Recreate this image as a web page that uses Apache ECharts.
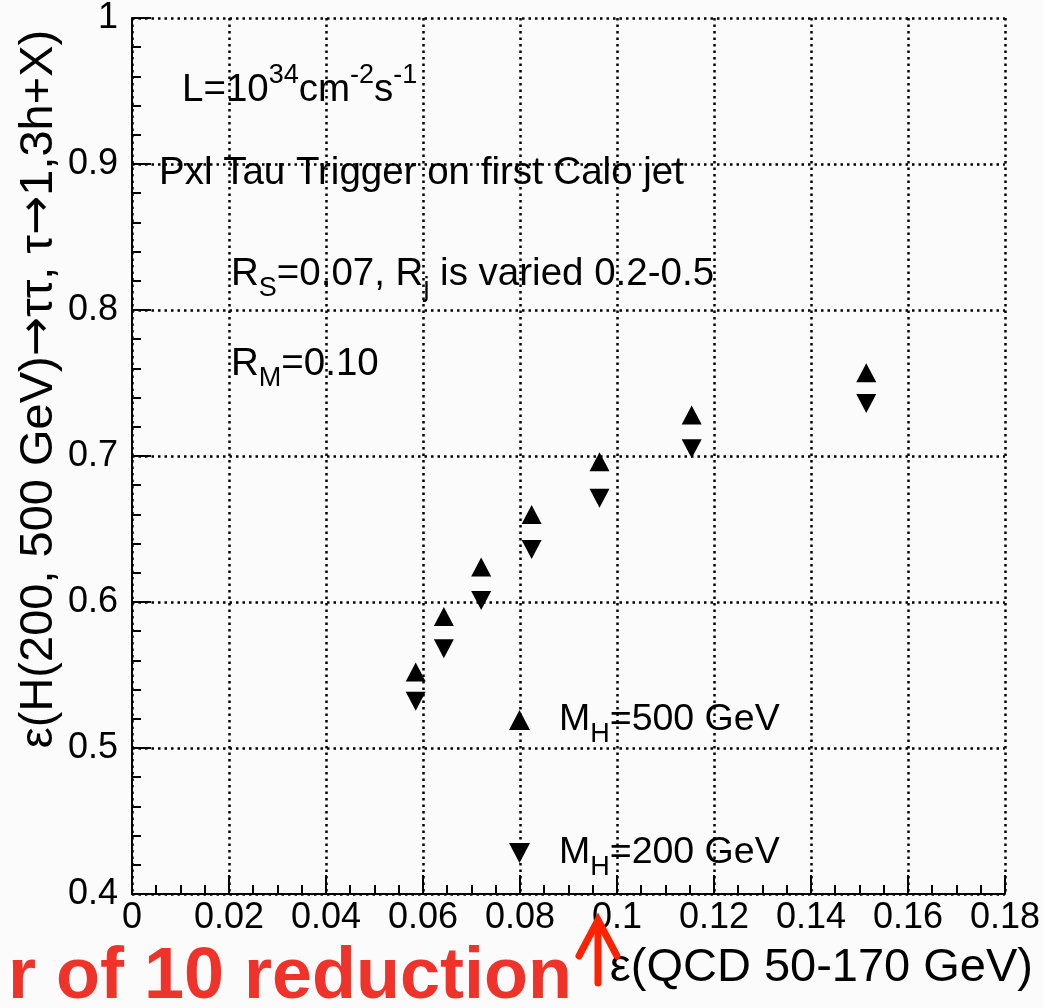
<!DOCTYPE html>
<html><head><meta charset="utf-8">
<script src="https://cdn.jsdelivr.net/npm/echarts@6/dist/echarts.min.js"></script>
<style>html,body{margin:0;padding:0;background:#fbfbfb}#c{width:1043px;height:1008px}</style>
</head><body><div id="c"></div>
<script>
// QCD background efficiency (x) for each R_j setting
const qcdEff = [0.0585, 0.0643, 0.0720, 0.0824, 0.0964, 0.1154, 0.1514];
// Higgs efficiencies
const higgs500Eff = [0.552, 0.590, 0.624, 0.660, 0.696, 0.728, 0.757];
const higgs200Eff = [0.532, 0.568, 0.601, 0.636, 0.671, 0.705, 0.736];
const seriesNames = ['MH500', 'MH200'];
const legendLabels = { MH500: '{n|M}{b|H}{n|=500 GeV}', MH200: '{n|M}{b|H}{n|=200 GeV}' };
const xRange = [0, 0.18, 0.02];
const yRange = [0.4, 1.0, 0.1];

const FONT = "'Liberation Sans', Arial, Helvetica, sans-serif";
function mkRich(key, size) {
  const o = {};
  o.n = { fontSize: size, lineHeight: 56, verticalAlign: 'middle', fontFamily: FONT };
  o.p = { fontSize: 27, lineHeight: 26, verticalAlign: 'top', fontFamily: FONT };
  o.b = { fontSize: 27, lineHeight: 26, verticalAlign: 'bottom', fontFamily: FONT };
  Object.values(o).forEach(s => { s[key] = '#000'; });
  return o;
}
const legendRich = mkRich('color', 37.5);
const annRich = mkRich('fill', 38.5);

const zip = (xs, ys) => xs.map((x, i) => [x, ys[i]]);
const chart = echarts.init(document.getElementById('c'), null, { renderer: 'canvas' });
const downTri = 'path://M0,0L20,0L10,19Z';

function ann(x, y, text) {
  return { type: 'text', x: x, y: y, z: 100,
    style: { text: text, rich: annRich, fill: '#000', align: 'left', verticalAlign: 'top', font: '38.5px ' + FONT } };
}

chart.setOption({
  backgroundColor: '#fbfbfb',
  animation: false,
  grid: { left: 132, top: 16, right: 32, bottom: 114, containLabel: false },
  xAxis: {
    type: 'value', min: xRange[0], max: xRange[1], interval: xRange[2],
    axisLine: { show: true, onZero: false, lineStyle: { color: '#000', width: 2 } },
    axisTick: { show: true, inside: true, length: 19, lineStyle: { color: '#000', width: 2 } },
    minorTick: { show: true, splitNumber: 4, length: 9, lineStyle: { color: '#000', width: 2 } },
    axisLabel: { color: '#000', fontSize: 36, fontFamily: FONT, margin: 6 },
    splitLine: { show: true, lineStyle: { color: '#000', width: 2.5, type: [2.5, 4] } }
  },
  yAxis: {
    type: 'value', min: yRange[0], max: yRange[1], interval: yRange[2],
    axisLine: { show: true, onZero: false, lineStyle: { color: '#000', width: 2 } },
    axisTick: { show: true, inside: true, length: 19, lineStyle: { color: '#000', width: 2 } },
    minorTick: { show: true, splitNumber: 5, length: 9, lineStyle: { color: '#000', width: 2 } },
    axisLabel: { color: '#000', fontSize: 36, fontFamily: FONT, margin: 14 },
    splitLine: { show: true, lineStyle: { color: '#000', width: 2.5, type: [2.5, 4] } }
  },
  legend: {
    orient: 'vertical', left: 509, top: 701, padding: 0, itemGap: 86,
    itemWidth: 21, itemHeight: 20,
    data: seriesNames,
    formatter: (name) => legendLabels[name],
    textStyle: { rich: legendRich, fontSize: 37.5, fontFamily: FONT, color: '#000', padding: [0, 0, 0, 24] }
  },
  series: [
    { name: seriesNames[0], type: 'scatter', symbol: 'triangle', symbolSize: [20, 19],
      itemStyle: { color: '#000', opacity: 1 }, data: zip(qcdEff, higgs500Eff), z: 10 },
    { name: seriesNames[1], type: 'scatter', symbol: downTri, symbolSize: [20, 19],
      itemStyle: { color: '#000', opacity: 1 }, data: zip(qcdEff, higgs200Eff), z: 10 }
  ],
  graphic: [
    ann(182, 62, '{n|L=10}{p|34}{n|cm}{p|-2}{n|s}{p|-1}'),
    ann(159, 145, '{n|Pxl Tau Trigger on first Calo jet}'),
    ann(231, 246, '{n|R}{b|S}{n|=0.07, R}{b|j}{n| is varied 0.2-0.5}'),
    ann(231, 336, '{n|R}{b|M}{n|=0.10}'),
    { type: 'text', x: 39, y: 389, rotation: Math.PI / 2,
      style: { text: '{t|ε(H(200, 500 GeV)}{a|→}{t|ττ, τ}{a|→}{t|1,3h+X)}', fill: '#000', font: '47px ' + FONT,
        rich: { t: { fontSize: 47, fontFamily: FONT, fill: '#000' }, a: { fontSize: 47, fontFamily: "'DejaVu Sans', sans-serif", fill: '#000' } },
        align: 'center', verticalAlign: 'middle' } },
    { type: 'text', x: 1033, y: 968,
      style: { text: 'ε(QCD 50-170 GeV)', fill: '#000', font: '47px ' + FONT, align: 'right', verticalAlign: 'middle' } },
    { type: 'text', x: 572, y: 978,
      style: { text: 'r of 10 reduction', fill: '#f0332a', font: 'bold 72px ' + FONT, align: 'right', verticalAlign: 'middle' } },
    { type: 'polyline', z: 100, shape: { points: [[598, 983], [598, 921]] },
      style: { stroke: '#ff2200', lineWidth: 7, lineCap: 'round' } },
    { type: 'polyline', z: 100, shape: { points: [[579, 956], [598, 920], [617, 956]] },
      style: { stroke: '#ff2200', lineWidth: 7, lineCap: 'round', lineJoin: 'miter', fill: null } }
  ]
});
</script></body></html>
